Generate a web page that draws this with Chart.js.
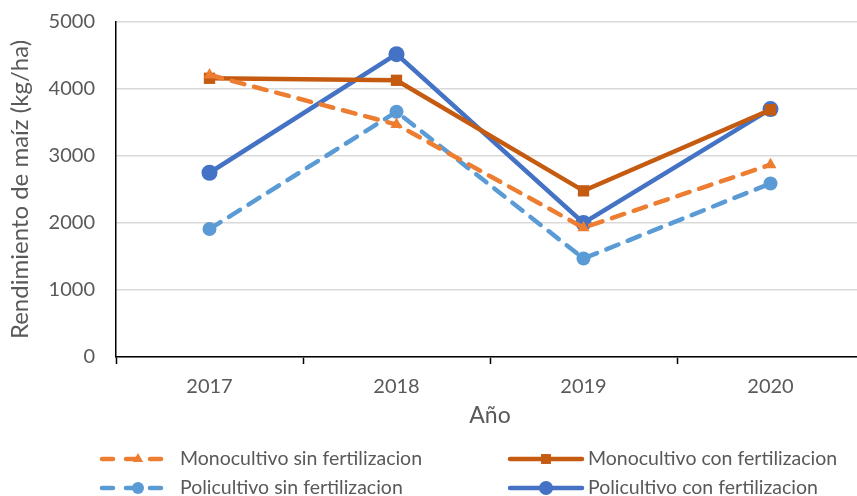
<!DOCTYPE html>
<html>
<head>
<meta charset="utf-8">
<script src="https://cdn.jsdelivr.net/npm/chart.js@4/dist/chart.umd.min.js"></script>
<style>
    html, body { margin: 0; padding: 0; background: #fff; overflow: hidden; }
    #wrap { width: 872px; height: 496px; }
</style>
</head>
<body>
<div id="wrap"><canvas id="yieldChart" width="872" height="496"></canvas></div>
<script>
const years = ['2017', '2018', '2019', '2020'];
const monoSin = [4210, 3470, 1930, 2870];
const monoCon = [4160, 4130, 2480, 3690];
const poliSin = [1910, 3660, 1470, 2590];
const poliCon = [2750, 4520, 2000, 3700];
const yTicks = [0, 1000, 2000, 3000, 4000, 5000];

const FONT = 'Lato, "Open Sans", sans-serif';
const TEXT = '#595959';

const series = [
    { label: 'Monocultivo sin fertilizacion', data: monoSin, color: '#ED7D31', dash: [13, 10], point: 'triangle', radius: 7 },
    { label: 'Monocultivo con fertilizacion', data: monoCon, color: '#C55A11', dash: [], point: 'rect', radius: 8 },
    { label: 'Policultivo sin fertilizacion', data: poliSin, color: '#5B9BD5', dash: [13, 10], point: 'circle', radius: 7 },
    { label: 'Policultivo con fertilizacion', data: poliCon, color: '#4472C4', dash: [], point: 'circle', radius: 8 },
];

// legend drawn in two columns below the axis
const legendSlots = [
    { x: 102, y: 459 }, { x: 510, y: 459 },
    { x: 102, y: 488 }, { x: 510, y: 488 },
];

const gridLegend = {
    id: 'gridLegend',
    afterDraw(chart) {
        const ctx = chart.ctx;
        series.forEach((s, i) => {
            const slot = legendSlots[i];
            const w = 72;
            ctx.save();
            ctx.strokeStyle = s.color;
            ctx.lineWidth = 4.5;
            ctx.lineCap = 'round';
            ctx.setLineDash(s.dash.length ? [11, 13] : []);
            ctx.beginPath();
            ctx.moveTo(slot.x, slot.y);
            ctx.lineTo(slot.x + w, slot.y);
            ctx.stroke();
            ctx.setLineDash([]);
            ctx.fillStyle = s.color;
            Chart.helpers.drawPoint(ctx, { pointStyle: s.point, radius: s.radius - 1, borderWidth: 0 }, slot.x + w / 2, slot.y);
            ctx.fillStyle = TEXT;
            ctx.font = '19.5px ' + FONT;
            ctx.textBaseline = 'middle';
            ctx.fillText(s.label, slot.x + w + 6, slot.y);
            ctx.restore();
        });
    }
};

new Chart(document.getElementById('yieldChart'), {
    type: 'line',
    data: {
        labels: years,
        datasets: series.map(s => ({
            label: s.label,
            data: s.data,
            borderColor: s.color,
            backgroundColor: s.color,
            borderWidth: 4.5,
            borderDash: s.dash,
            borderCapStyle: 'round',
            tension: 0,
            fill: false,
            pointStyle: s.point,
            pointRadius: s.radius,
            pointBorderWidth: 0,
            pointBackgroundColor: s.color
        }))
    },
    options: {
        responsive: false,
        animation: false,
        layout: { padding: { left: 0, top: 22, right: 3, bottom: 63 } },
        scales: {
            x: {
                offset: true,
                afterFit: (scale) => { scale.height = 76; },
                grid: {
                    offset: true,
                    drawOnChartArea: false,
                    drawTicks: true,
                    tickLength: 7,
                    tickWidth: 1.5,
                    tickColor: '#000'
                },
                border: { color: '#000', width: 1.5 },
                ticks: { color: TEXT, font: { family: FONT, size: 20 }, padding: 11 },
                title: {
                    display: true,
                    text: 'Año',
                    color: TEXT,
                    font: { family: FONT, size: 23 },
                    padding: { top: 0, bottom: 4 }
                }
            },
            y: {
                min: 0,
                max: 5000,
                afterFit: (scale) => {
                    scale.width = 116;
                    // tick padding would otherwise push the plot top down
                    scale.paddingTop = 0;
                    scale.paddingBottom = 0;
                },
                afterBuildTicks: (scale) => { scale.ticks = yTicks.map(v => ({ value: v })); },
                grid: { color: '#d9d9d9', lineWidth: 1.5, drawTicks: false },
                border: { color: '#000', width: 1.5 },
                ticks: {
                    color: TEXT,
                    font: { family: FONT, size: 20 },
                    padding: 21,
                    callback: (v) => String(v)
                },
                title: {
                    display: true,
                    text: 'Rendimiento de maíz (kg/ha)',
                    color: TEXT,
                    font: { family: FONT, size: 24 },
                    padding: { top: 6, bottom: 0 }
                }
            }
        },
        plugins: {
            legend: { display: false },
            tooltip: { enabled: false }
        }
    },
    plugins: [gridLegend]
});
</script>
</body>
</html>
